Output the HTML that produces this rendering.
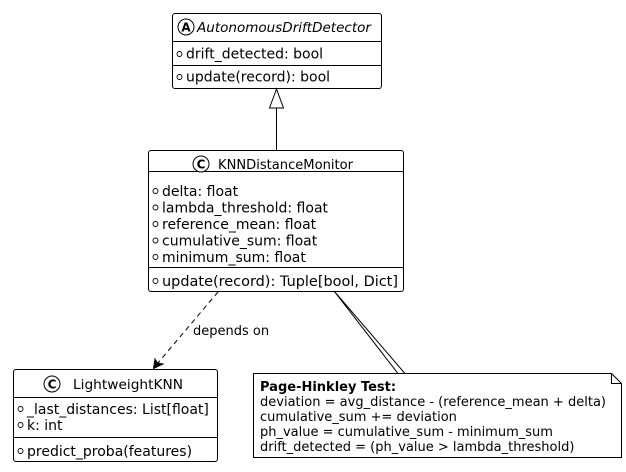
<!DOCTYPE html>
<html><head><meta charset="utf-8"><style>
html,body{margin:0;padding:0;background:#fff;}
svg text{font-family:"DejaVu Sans","Liberation Sans",sans-serif;font-size:14px;fill:#000;}
svg text.t{font-size:13px;}
svg text.n{font-size:13px;}
</style></head><body>
<svg width="626" height="467" viewBox="0 0 626 467" xmlns="http://www.w3.org/2000/svg">
<!-- AutonomousDriftDetector -->
<rect x="172.5" y="13.5" width="209" height="75" rx="2.5" fill="#fff" stroke="#000"/>
<line x1="172.5" y1="41.5" x2="381.5" y2="41.5" stroke="#000"/>
<line x1="172.5" y1="65.5" x2="381.5" y2="65.5" stroke="#000"/>
<circle cx="186" cy="27" r="8" fill="#fff" stroke="#000"/>
<text x="186" y="31.5" text-anchor="middle" style="font-weight:bold;font-size:12px">A</text>
<text class="t" x="197" y="32" style="font-style:italic" textLength="174" lengthAdjust="spacingAndGlyphs">AutonomousDriftDetector</text>
<circle cx="179.5" cy="54" r="2.5" fill="none" stroke="#000" stroke-width="0.9"/>
<text x="186" y="58.5">drift_detected: bool</text>
<circle cx="179.5" cy="77" r="2.5" fill="none" stroke="#000" stroke-width="0.9"/>
<text x="186" y="81.5">update(record): bool</text>

<!-- inheritance -->
<line x1="276.5" y1="108" x2="276.5" y2="150" stroke="#000"/>
<polygon points="276.5,89 269.5,108 283.5,108" fill="#fff" stroke="#000"/>

<!-- KNNDistanceMonitor -->
<rect x="148.5" y="150.5" width="255" height="141" rx="2.5" fill="#fff" stroke="#000"/>
<line x1="148.5" y1="171.5" x2="403.5" y2="171.5" stroke="#000"/>
<line x1="148.5" y1="267.5" x2="403.5" y2="267.5" stroke="#000"/>
<circle cx="201" cy="164" r="8" fill="#fff" stroke="#000"/>
<text x="201" y="168.5" text-anchor="middle" style="font-weight:bold;font-size:12px">C</text>
<text class="t" x="218" y="169" textLength="135" lengthAdjust="spacingAndGlyphs">KNNDistanceMonitor</text>
<g>
<circle cx="155.5" cy="191" r="2.5" fill="none" stroke="#000" stroke-width="0.9"/>
<text x="162" y="196">delta: float</text>
<circle cx="155.5" cy="207.5" r="2.5" fill="none" stroke="#000" stroke-width="0.9"/>
<text x="162" y="212.5">lambda_threshold: float</text>
<circle cx="155.5" cy="224" r="2.5" fill="none" stroke="#000" stroke-width="0.9"/>
<text x="162" y="229">reference_mean: float</text>
<circle cx="155.5" cy="240.5" r="2.5" fill="none" stroke="#000" stroke-width="0.9"/>
<text x="162" y="245.5">cumulative_sum: float</text>
<circle cx="155.5" cy="257" r="2.5" fill="none" stroke="#000" stroke-width="0.9"/>
<text x="162" y="262">minimum_sum: float</text>
<circle cx="155.5" cy="281" r="2.5" fill="none" stroke="#000" stroke-width="0.9"/>
<text x="162" y="286" textLength="236" lengthAdjust="spacingAndGlyphs">update(record): Tuple[bool, Dict]</text>
</g>

<!-- dependency -->
<line x1="218" y1="292" x2="157" y2="364" stroke="#000" stroke-dasharray="5,4"/>
<polygon points="153.5,368.5 155,359 157.5,363 163,364" fill="#000" stroke="#000"/>
<text class="n" x="193" y="335">depends on</text>

<!-- LightweightKNN -->
<rect x="13.5" y="369.5" width="204" height="92" rx="2.5" fill="#fff" stroke="#000"/>
<line x1="13.5" y1="397.5" x2="217.5" y2="397.5" stroke="#000"/>
<line x1="13.5" y1="437.5" x2="217.5" y2="437.5" stroke="#000"/>
<circle cx="52" cy="384" r="8" fill="#fff" stroke="#000"/>
<text x="52" y="388.5" text-anchor="middle" style="font-weight:bold;font-size:12px">C</text>
<text class="t" x="73" y="389" textLength="110" lengthAdjust="spacingAndGlyphs">LightweightKNN</text>
<circle cx="20.5" cy="409" r="2.5" fill="none" stroke="#000" stroke-width="0.9"/>
<text x="27" y="414">_last_distances: List[float]</text>
<circle cx="20.5" cy="425" r="2.5" fill="none" stroke="#000" stroke-width="0.9"/>
<text x="27" y="430">k: int</text>
<circle cx="20.5" cy="451" r="2.5" fill="none" stroke="#000" stroke-width="0.9"/>
<text x="27" y="456">predict_proba(features)</text>

<!-- note connector -->
<polygon points="334,291 398,373.5 405,373.5" fill="#fff" stroke="#000"/>

<!-- Note -->
<path d="M253.5,373.5 L611.5,373.5 L621.5,383.5 L621.5,457.5 L253.5,457.5 Z" fill="#fff" stroke="#000"/>
<path d="M611.5,373.5 L611.5,383.5 L621.5,383.5" fill="none" stroke="#000"/>
<text class="n" x="260" y="391" style="font-weight:bold">Page-Hinkley Test:</text>
<text class="n" x="260" y="406" textLength="346" lengthAdjust="spacingAndGlyphs">deviation = avg_distance - (reference_mean + delta)</text>
<text class="n" x="260" y="421">cumulative_sum += deviation</text>
<text class="n" x="260" y="436">ph_value = cumulative_sum - minimum_sum</text>
<text class="n" x="260" y="451">drift_detected = (ph_value &gt; lambda_threshold)</text>
</svg>
</body></html>
